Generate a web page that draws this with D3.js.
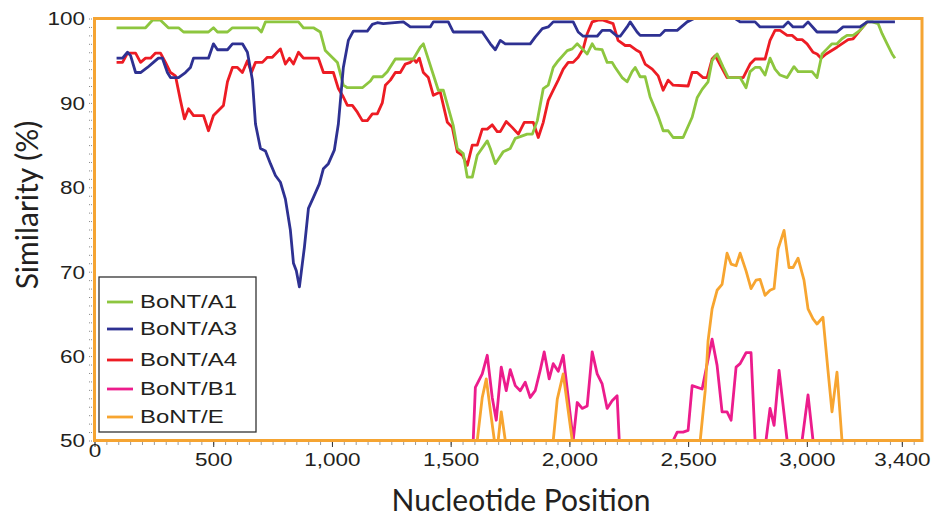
<!DOCTYPE html>
<html>
<head>
<meta charset="utf-8">
<script src="https://cdn.jsdelivr.net/npm/d3@7"></script>
<style>
  body { margin: 0; background: #fff; }
  svg { display: block; }
</style>
</head>
<body>
<svg width="940" height="518"></svg>
<script>
// similarity values, [nucleotide position, %]
const bontA1 = [
  [93,98.9],[215,98.9],[244,99.8],[278,99.8],[311,98.9],[354,98.9],[375,98.4],[480,98.4],
  [501,98.9],[518,98.4],[560,98.4],[581,98.9],[686,98.9],[703,98.4],[720,99.6],[859,99.6],
  [880,98.9],[922,98.9],[951,98.4],[972,96.2],[1023,94.8],[1048,92.1],[1065,91.8],[1128,91.8],
  [1162,92.6],[1174,93.1],[1212,93.1],[1233,93.7],[1267,95.2],[1343,95.2],[1372,96.6],[1385,97.0],
  [1448,91.5],[1469,91.5],[1511,87.3],[1528,84.6],[1553,84.0],[1570,81.2],[1591,81.2],[1612,83.8],
  [1654,85.5],[1667,84.6],[1688,82.8],[1721,84.2],[1751,84.6],[1772,85.8],[1793,86.0],[1822,86.3],
  [1844,86.3],[1865,87.9],[1890,91.7],[1911,92.1],[1932,94.2],[1953,95.0],[1991,96.2],[2012,96.4],
  [2033,97.0],[2054,96.4],[2075,95.8],[2096,97.0],[2109,96.4],[2138,96.3],[2159,94.8],[2180,94.8],
  [2193,94.2],[2222,93.0],[2243,92.5],[2264,93.7],[2277,94.2],[2298,93.1],[2319,93.1],[2340,90.7],
  [2374,88.4],[2395,86.7],[2416,86.7],[2437,85.9],[2479,85.9],[2517,88.3],[2538,90.6],[2559,91.6],
  [2584,92.5],[2601,95.0],[2622,95.8],[2648,94.2],[2669,93.0],[2719,93.0],[2744,91.8],[2761,93.7],
  [2782,94.2],[2803,94.2],[2824,93.3],[2845,95.3],[2866,94.0],[2887,93.3],[2917,93.0],[2946,94.3],
  [2963,93.7],[3022,93.7],[3043,93.0],[3064,95.8],[3085,96.4],[3106,97.0],[3127,97.0],[3148,97.6],
  [3169,98.0],[3195,98.0],[3224,98.6],[3254,99.6],[3275,99.6],[3300,99.4],[3317,98.2],[3338,97.0],
  [3359,95.8],[3371,95.3]
];

const bontA3 = [
  [93,95.3],[118,95.3],[139,96.0],[152,95.6],[173,93.6],[194,93.6],[223,94.2],[248,94.8],
  [269,95.3],[286,95.3],[307,93.6],[320,93.0],[354,93.0],[383,93.6],[404,94.2],[417,95.3],
  [480,95.3],[501,97.0],[518,96.3],[560,96.3],[581,97.0],[623,97.0],[644,96.0],[665,92.7],
  [678,87.5],[699,84.6],[720,84.3],[741,82.8],[762,81.4],[783,80.6],[804,78.6],[825,74.9],
  [838,71.0],[850,70.1],[863,68.2],[884,72.9],[901,77.5],[922,78.8],[947,80.4],[964,82.2],
  [985,82.8],[1010,84.4],[1027,87.5],[1048,94.2],[1069,97.4],[1090,98.5],[1149,98.5],[1170,99.3],
  [1191,99.5],[1216,99.4],[1301,99.6],[1330,99.0],[1414,99.0],[1427,99.6],[1490,99.6],[1511,98.4],
  [1633,98.4],[1667,97.0],[1688,96.3],[1709,97.4],[1730,97.0],[1835,97.0],[1856,97.8],[1886,98.8],
  [1911,99.0],[1932,99.6],[2016,99.6],[2037,98.4],[2058,97.9],[2117,97.9],[2138,98.6],[2172,98.6],
  [2201,97.9],[2214,97.9],[2243,99.0],[2256,99.6],[2285,98.4],[2298,98.0],[2382,98.0],[2403,98.6],
  [2454,98.6],[2496,99.6],[2525,100],[2698,100],[2719,99.6],[2782,99.6],[2803,99.0],[2900,99.0],
  [2921,99.6],[2942,99.0],[2984,99.0],[3005,99.6],[3043,98.4],[3127,98.4],[3153,99.0],[3224,99.0],
  [3254,99.6],[3371,99.6]
];

const bontA4 = [
  [93,94.8],[118,94.8],[139,95.9],[173,95.9],[194,94.8],[215,95.3],[236,95.3],[257,95.9],
  [278,95.9],[299,94.8],[320,93.6],[341,93.2],[362,90.3],[379,88.1],[396,89.3],[417,88.5],
  [459,88.5],[480,86.7],[501,88.5],[522,89.1],[543,89.7],[560,92.5],[581,94.2],[602,94.2],
  [623,93.6],[644,95.0],[661,93.6],[678,94.8],[707,94.8],[728,95.4],[749,95.4],[783,96.4],
  [804,94.6],[821,95.3],[838,94.6],[859,96.0],[880,95.3],[943,95.3],[964,93.6],[1006,93.6],
  [1027,91.7],[1048,90.7],[1065,89.7],[1086,89.7],[1107,88.9],[1128,87.9],[1149,87.9],[1170,88.7],
  [1191,88.7],[1212,90.0],[1225,92.1],[1246,92.7],[1267,93.6],[1288,93.6],[1309,94.6],[1330,94.8],
  [1343,95.2],[1355,94.8],[1368,95.3],[1385,93.6],[1406,93.0],[1427,90.9],[1456,91.3],[1486,87.7],
  [1507,87.1],[1528,84.2],[1549,83.8],[1570,82.6],[1591,85.0],[1612,85.0],[1633,86.9],[1654,86.9],
  [1675,87.4],[1696,86.6],[1709,86.6],[1734,87.8],[1759,87.1],[1785,86.3],[1810,87.7],[1848,87.7],
  [1869,85.9],[1890,87.7],[1911,90.3],[1932,91.5],[1953,92.7],[1974,94.0],[1995,94.8],[2016,94.8],
  [2037,95.4],[2058,96.4],[2075,98.2],[2096,99.6],[2121,99.8],[2142,99.8],[2163,99.6],[2184,99.4],
  [2205,97.4],[2235,96.8],[2256,96.8],[2285,96.2],[2298,96.0],[2319,94.6],[2349,94.0],[2374,93.2],
  [2395,91.5],[2416,92.7],[2437,92.1],[2500,92.0],[2517,93.6],[2538,93.6],[2563,93.0],[2580,93.0],
  [2601,95.2],[2614,95.6],[2664,93.0],[2732,93.0],[2761,94.6],[2782,95.2],[2824,95.2],[2845,97.4],
  [2866,98.6],[2887,98.6],[2917,98.0],[2938,98.0],[2959,97.5],[2980,97.5],[3001,97.0],[3026,96.0],
  [3043,95.8],[3060,95.3],[3081,95.8],[3127,96.6],[3174,97.5],[3195,97.6],[3224,98.6],[3254,99.6]
];

const bontB1 = [
  [1595,50],[1604,56.3],[1633,57.9],[1654,60.1],[1675,55.1],[1692,52.4],[1713,58.7],[1734,55.9],
  [1751,58.4],[1772,56.5],[1793,55.9],[1814,56.9],[1835,55.1],[1856,55.9],[1877,58.3],[1894,60.5],
  [1915,57.3],[1932,59.1],[1953,58.2],[1974,60.1],[1995,55.1],[2016,50],[2033,54.5],[2054,53.8],
  [2075,54.1],[2096,60.5],[2117,57.9],[2138,56.7],[2159,53.8],[2180,54.7],[2201,55.3],[2210,50],
  [2437,50],[2454,51.0],[2479,51.0],[2500,51.2],[2517,56.5],[2559,56.1],[2601,62.0],[2622,58.9],
  [2643,53.4],[2664,53.4],[2681,52.4],[2702,58.7],[2719,59.1],[2744,60.4],[2765,60.4],[2782,50],
  [2828,50],[2845,53.8],[2862,51.8],[2883,58.3],[2917,50],[2980,50],[3005,55.4],[3026,50]
];

const bontE = [
  [1612,50],[1633,55.1],[1650,57.3],[1667,53.6],[1684,50],[1700,50],[1713,53.4],[1730,50],
  [1932,50],[1949,54.9],[1974,57.9],[2012,50],[2551,50],[2572,55.9],[2584,61.8],[2601,65.6],
  [2622,67.8],[2643,68.5],[2664,72.2],[2681,70.9],[2702,70.7],[2719,72.2],[2744,70.1],[2765,68.0],
  [2786,69.0],[2803,69.1],[2824,67.2],[2845,67.8],[2862,68.0],[2879,72.7],[2904,74.9],[2925,70.5],
  [2942,70.5],[2963,71.6],[2988,69.0],[3005,65.6],[3026,64.4],[3043,63.8],[3068,64.6],[3089,58.3],
  [3106,53.4],[3127,58.1],[3148,50]
];

const seriesNames = ['BoNT/A1', 'BoNT/A3', 'BoNT/A4', 'BoNT/B1', 'BoNT/E'];
const seriesColors = ['#8dc63f', '#2e3192', '#ed1c24', '#ec1c8c', '#f7a530'];
const xTicks = [0, 500, 1000, 1500, 2000, 2500, 3000, 3400];
const yTicks = [50, 60, 70, 80, 90, 100];

const svg = d3.select('svg');
const frameColor = '#f5a432';
const textScale = 1.25;

const x = d3.scaleLinear().domain([0, 3485]).range([94.5, 922]);
const y = d3.scaleLinear().domain([50, 100]).range([440.5, 18.5]);

// minor ticks first, under the frame
svg.append('g')
  .attr('transform', 'translate(92,0)')
  .call(d3.axisLeft(y).tickValues(d3.range(50, 100.1, 1)).tickSize(4).tickFormat(''))
  .call(g => g.select('.domain').remove())
  .call(g => g.selectAll('line').attr('stroke', '#8a8a8a').attr('stroke-dasharray', '1,1'));

svg.append('g')
  .attr('transform', 'translate(0,442)')
  .call(d3.axisBottom(x).tickValues(d3.range(0, 3451, 50)).tickSize(3).tickFormat(''))
  .call(g => g.select('.domain').remove())
  .call(g => g.selectAll('line').attr('stroke', '#999'));

// major x ticks + labels
const xAxis = svg.append('g')
  .attr('transform', 'translate(0,442)')
  .call(d3.axisBottom(x).tickValues(xTicks).tickSize(5).tickFormat(d3.format(',')))
  .call(g => g.select('.domain').remove());
xAxis.selectAll('line').attr('stroke', '#333');
xAxis.selectAll('text')
  .attr('dy', null)
  .attr('y', d => d === 0 ? 15 : 24)
  .attr('transform', `scale(${textScale},1)`)
  .attr('x', 0)
  .attr('fill', '#231f20')
  .style('font', '18px "Liberation Sans", Arial, sans-serif');

// y labels
const yAxis = svg.append('g')
  .attr('transform', 'translate(94,0)')
  .call(d3.axisLeft(y).tickValues(yTicks).tickSize(0).tickPadding(0))
  .call(g => g.select('.domain').remove());
yAxis.selectAll('text')
  .attr('x', -9 / textScale)
  .attr('dy', '0.36em')
  .attr('transform', `scale(${textScale},1)`)
  .attr('fill', '#231f20')
  .style('font', '18px "Liberation Sans", Arial, sans-serif');

// series
const line = d3.line()
  .x(d => x(d[0]))
  .y(d => y(d[1]));

const drawOrder = [
  [bontA4, 2], [bontA1, 0], [bontA3, 1], [bontB1, 3], [bontE, 4]
];
const plot = svg.append('g');
drawOrder.forEach(([data, i]) => {
  plot.append('path')
    .datum(data)
    .attr('d', line)
    .attr('fill', 'none')
    .attr('stroke', seriesColors[i])
    .attr('stroke-width', 2.8)
    .attr('stroke-linejoin', 'round');
});

// orange plot frame
svg.append('rect')
  .attr('x', x(0))
  .attr('y', y(100))
  .attr('width', x(3485) - x(0))
  .attr('height', y(50) - y(100))
  .attr('fill', 'none')
  .attr('stroke', frameColor)
  .attr('stroke-width', 3);

// legend
const legend = svg.append('g').attr('transform', 'translate(99,277)');
legend.append('rect')
  .attr('width', 157)
  .attr('height', 155)
  .attr('fill', '#fff')
  .attr('stroke', '#333')
  .attr('stroke-width', 1.3);

const rowY = [25, 52, 83, 112, 140];
const rows = legend.selectAll('.row')
  .data(seriesNames)
  .enter()
  .append('g')
  .attr('transform', (d, i) => `translate(0,${rowY[i]})`);
rows.append('line')
  .attr('x1', 8).attr('x2', 34)
  .attr('stroke', (d, i) => seriesColors[i])
  .attr('stroke-width', 2.8);
rows.append('text')
  .attr('x', 41 / 1.33)
  .attr('dy', '0.36em')
  .attr('transform', 'scale(1.33,1)')
  .attr('fill', '#231f20')
  .style('font', '18px "Liberation Sans", Arial, sans-serif')
  .text(d => d);

// axis titles
svg.append('text')
  .attr('x', 521)
  .attr('y', 511)
  .attr('text-anchor', 'middle')
  .attr('fill', '#231f20')
  .style('font', '30px Lato, "Open Sans", sans-serif')
  .text('Nucleotide Position');

svg.append('text')
  .attr('transform', 'translate(38,205) rotate(-90)')
  .attr('text-anchor', 'middle')
  .attr('fill', '#231f20')
  .style('font', '30px Lato, "Open Sans", sans-serif')
  .text('Similarity (%)');
</script>
</body>
</html>
